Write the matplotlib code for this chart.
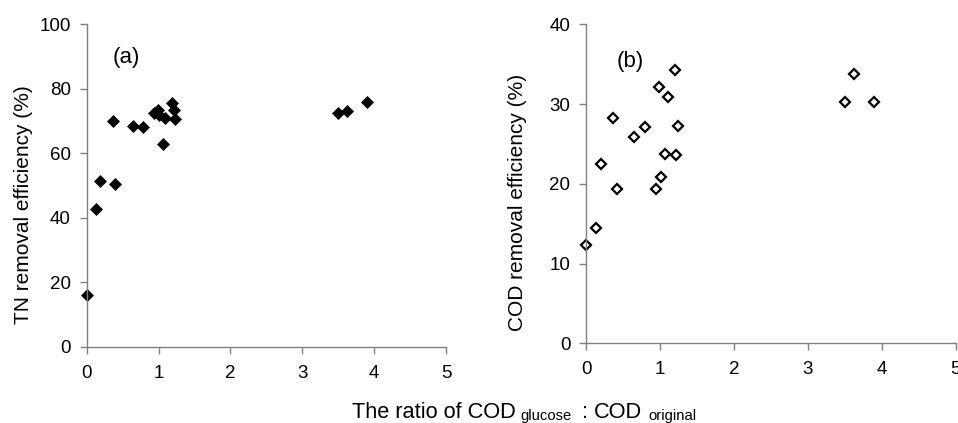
import matplotlib
matplotlib.use('Agg')
import matplotlib.pyplot as plt

plt.rcParams['font.family'] = ['Liberation Sans', 'DejaVu Sans']

# panel (a): TN removal
tn_x = [0.0, 0.125, 0.186, 0.40, 0.36, 0.64, 0.78, 0.94, 0.99, 1.01, 1.085, 1.065,
        1.19, 1.21, 1.225, 3.49, 3.62, 3.90]
tn_y = [16.0, 42.7, 51.5, 50.5, 70.1, 68.4, 68.0, 72.3, 73.3, 71.8, 70.8, 62.9,
        75.6, 73.3, 70.7, 72.3, 73.2, 75.9]

# panel (b): COD removal
cod_x = [0.0, 0.135, 0.20, 0.41, 0.36, 0.645, 0.79, 0.94, 1.01, 0.99, 1.10, 1.07,
         1.20, 1.24, 1.22, 3.50, 3.62, 3.90]
cod_y = [12.3, 14.4, 22.5, 19.4, 28.2, 25.9, 27.1, 19.3, 20.8, 32.1, 30.9, 23.7,
         34.3, 27.2, 23.6, 30.2, 33.8, 30.2]

xticks = [0, 1, 2, 3, 4, 5]
tn_ticks = [0, 20, 40, 60, 80, 100]
cod_ticks = [0, 10, 20, 30, 40]

W, H = 958, 423
fig = plt.figure(figsize=(W / 100, H / 100), dpi=100)
ax1 = fig.add_axes([0.0905, 0.1804, 0.3751, 0.7626])
ax2 = fig.add_axes([0.612, 0.1884, 0.3856, 0.7542])

def style(ax, yticks):
    for s in ['top', 'right']:
        ax.spines[s].set_visible(False)
    for s in ['left', 'bottom']:
        ax.spines[s].set_color('#808080')
        ax.spines[s].set_linewidth(1.0)
    ax.set_xlim(0, 5)
    ax.set_ylim(yticks[0], yticks[-1])
    ax.set_xticks(xticks)
    ax.set_yticks(yticks)
    ax.tick_params(direction='out', length=5, width=1, color='#808080',
                   labelsize=13.5, pad=6.5)
    ax.tick_params(axis='x', pad=8)

ax1.plot(tn_x, tn_y, 'D', color='black', markersize=6.5, markeredgewidth=0.5,
         clip_on=False)
style(ax1, tn_ticks)
ax1.set_ylabel('TN removal efficiency (%)', fontsize=15)
ax1.yaxis.set_label_coords(-0.1495, 0.44)
ax1.text(0.551, 89.8, '(a)', fontsize=16, ha='center', va='center')

ax2.plot(cod_x, cod_y, 'D', markerfacecolor='white', markeredgecolor='black',
         markeredgewidth=1.6, markersize=5.6, clip_on=False)
style(ax2, cod_ticks)
ax2.set_ylabel('COD removal efficiency (%)', fontsize=15)
ax2.yaxis.set_label_coords(-0.160, 0.441)
ax2.text(0.59, 35.3, '(b)', fontsize=16, ha='center', va='center')

# shared x label with small subscripts, laid out piece by piece
label_parts = [('The ratio of COD', 15.7, 0, 5),
               ('glucose', 10.7, -2, 10),
               (':', 15.7, 0, 6),
               ('COD', 15.7, 0, 6),
               ('original', 10.7, -2, 0)]
fig.canvas.draw()
r = fig.canvas.get_renderer()
x = 352.0
base = 5.0
for txt, size, dy, gap in label_parts:
    t = fig.text(x / W, (base + dy) / H, txt, fontsize=size, ha='left', va='baseline')
    bb = t.get_window_extent(renderer=r)
    x = bb.x1 + gap

fig.savefig('out.png', dpi=100)
